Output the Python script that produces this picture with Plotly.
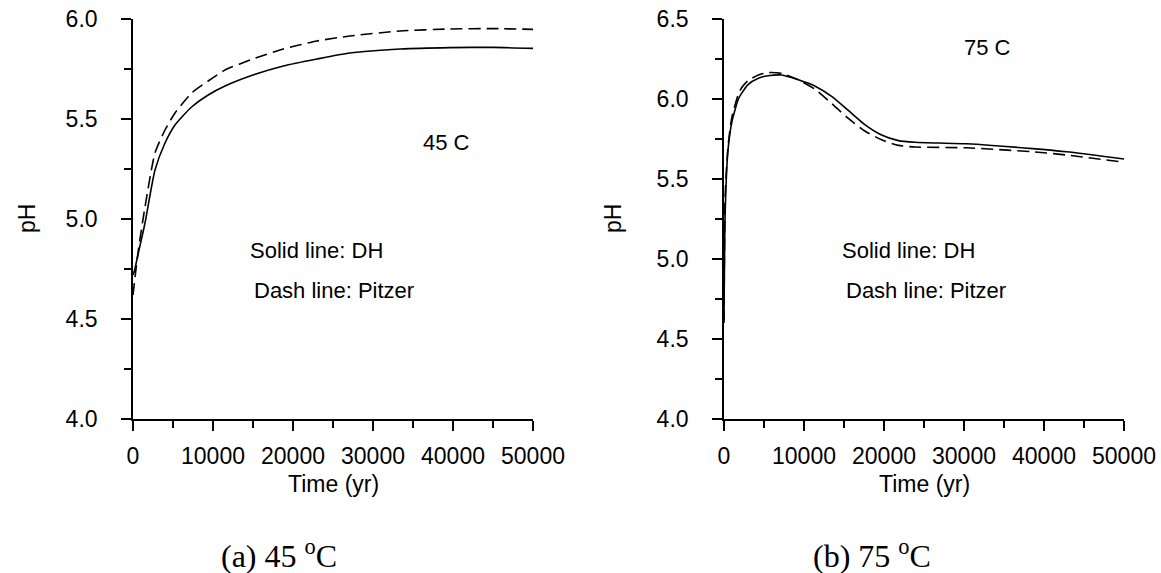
import plotly.graph_objects as go

W, H = 1161, 573

# ---- data ----
t45 = [0, 170, 670, 1500, 2750, 4000, 5250, 7330, 9400, 11500, 15000, 18800, 23000, 27100, 33400, 39600, 45000, 50000]
ph45_dh = [4.72, 4.74, 4.83, 4.98, 5.245, 5.38, 5.47, 5.56, 5.62, 5.665, 5.72, 5.765, 5.80, 5.83, 5.85, 5.857, 5.858, 5.853]
ph45_pitzer = [4.62, 4.68, 4.845, 5.06, 5.33, 5.445, 5.53, 5.63, 5.69, 5.745, 5.80, 5.85, 5.89, 5.915, 5.94, 5.95, 5.952, 5.948]

t75 = [0, 150, 500, 1000, 1800, 2200, 3000, 4300, 5500, 7200, 9300, 11400, 13500, 15500, 17600, 19700, 21800, 23900, 30300, 38600, 42800, 50000]
ph75_dh = [4.62, 5.3, 5.68, 5.86, 6.0, 6.035, 6.09, 6.13, 6.145, 6.15, 6.12, 6.08, 6.015, 5.93, 5.84, 5.775, 5.74, 5.73, 5.72, 5.69, 5.67, 5.625]
ph75_pitzer = [4.6, 5.4, 5.7, 5.89, 6.03, 6.07, 6.115, 6.15, 6.165, 6.16, 6.12, 6.06, 5.97, 5.88, 5.80, 5.745, 5.71, 5.70, 5.695, 5.67, 5.65, 5.605]

x_ticks = [0, 10000, 20000, 30000, 40000, 50000]
y45_ticks = [4.0, 4.5, 5.0, 5.5, 6.0]
y75_ticks = [4.0, 4.5, 5.0, 5.5, 6.0, 6.5]

FONT = "Liberation Sans, Arial, sans-serif"
SERIF = "Liberation Serif, Times New Roman, serif"
FS_TICK = 23
FS = 22

def px(x):
    return x / W

def py(y):
    return (H - y) / H

fig = go.Figure()
line_solid = dict(color="black", width=1.6, shape="spline", smoothing=0.6)
line_dash = dict(color="black", width=1.6, dash="12px,6px", shape="spline", smoothing=0.6)

fig.add_trace(go.Scatter(x=t45, y=ph45_dh, mode="lines", line=line_solid, xaxis="x", yaxis="y", showlegend=False))
fig.add_trace(go.Scatter(x=t45, y=ph45_pitzer, mode="lines", line=line_dash, xaxis="x", yaxis="y", showlegend=False))
fig.add_trace(go.Scatter(x=t75, y=ph75_dh, mode="lines", line=line_solid, xaxis="x2", yaxis="y2", showlegend=False))
fig.add_trace(go.Scatter(x=t75, y=ph75_pitzer, mode="lines", line=line_dash, xaxis="x2", yaxis="y2", showlegend=False))

def xaxis(dom, anchor):
    return dict(domain=dom, anchor=anchor, range=[0, 50000], tickvals=x_ticks,
                ticktext=[str(v) for v in x_ticks], showline=True, linecolor="black", linewidth=1.6,
                ticks="outside", ticklen=10, tickwidth=1.6, tickcolor="black",
                minor=dict(dtick=5000, tick0=0, ticks="outside", ticklen=7, tickwidth=1.6, tickcolor="black"),
                showgrid=False, zeroline=False, ticklabelstandoff=6, automargin=False,
                tickfont=dict(family=FONT, size=FS_TICK, color="black"))

def yaxis(dom, anchor, rng, vals):
    return dict(domain=dom, anchor=anchor, range=rng, tickvals=vals,
                ticktext=[f"{v:.1f}" for v in vals], showline=True, linecolor="black", linewidth=1.6,
                ticks="outside", ticklen=10, tickwidth=1.6, tickcolor="black",
                minor=dict(dtick=0.25, tick0=0, ticks="outside", ticklen=7, tickwidth=1.6, tickcolor="black"),
                showgrid=False, zeroline=False, ticklabelstandoff=19, automargin=False,
                tickfont=dict(family=FONT, size=FS_TICK, color="black"))

ydom = [py(419), py(19)]
fig.update_layout(
    template="none",
    width=W, height=H, margin=dict(l=0, r=0, t=0, b=0, pad=0, autoexpand=False),
    paper_bgcolor="white", plot_bgcolor="white",
    xaxis=xaxis([px(133), px(533)], "y"),
    yaxis=yaxis(ydom, "x", [4.0, 6.0], y45_ticks),
    xaxis2=xaxis([px(724), px(1124)], "y2"),
    yaxis2=yaxis(ydom, "x2", [4.0, 6.5], y75_ticks),
)

ann = []
def txt(x, y, s, font=FONT, size=FS, xanchor="center", angle=0):
    ann.append(dict(x=px(x), y=py(y), xref="paper", yref="paper", text=s, showarrow=False,
                    xanchor=xanchor, yanchor="middle", textangle=angle,
                    font=dict(family=font, size=size, color="black")))

txt(446, 143, "45 C")
txt(248, 250, "Solid line: DH", xanchor="left")
txt(252, 290, "Dash line: Pitzer", xanchor="left")
txt(988, 47, "75 C")
txt(840, 250, "Solid line: DH", xanchor="left")
txt(844, 290, "Dash line: Pitzer", xanchor="left")
txt(27, 219, "pH", size=23, angle=-90)
txt(613, 219, "pH", size=23, angle=-90)
txt(333, 484, "Time (yr)", size=23)
txt(924, 484, "Time (yr)", size=23)
txt(279, 554, "(a) 45 <sup>o</sup>C", font=SERIF, size=32)
txt(872, 554, "(b) 75 <sup>o</sup>C", font=SERIF, size=32)
fig.update_layout(annotations=ann)

fig.write_html("out.html")
